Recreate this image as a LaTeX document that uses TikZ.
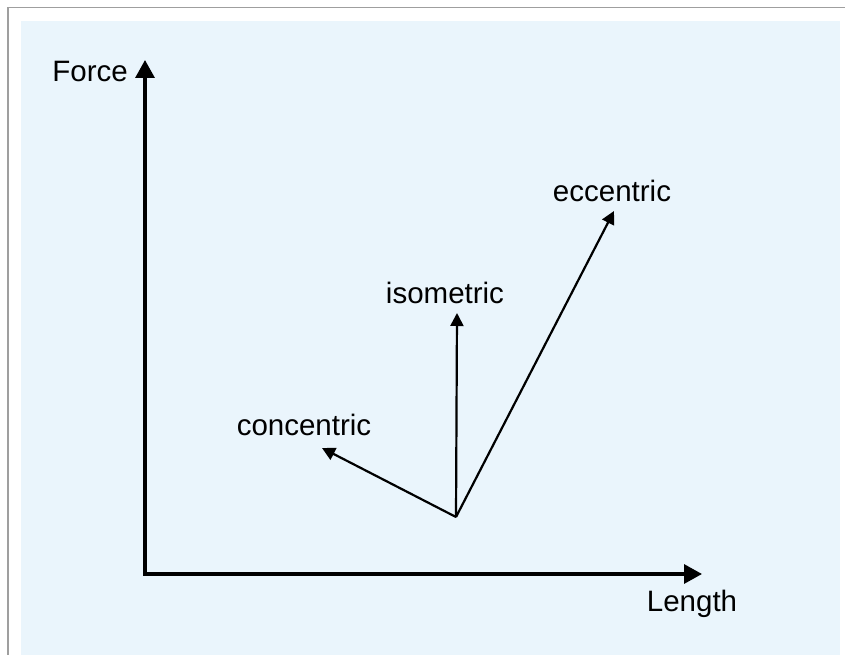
\documentclass[tikz,border=0pt]{standalone}
\usepackage{fontspec}
\setmainfont{Liberation Sans}
\usetikzlibrary{arrows.meta,positioning}
\definecolor{panelblue}{RGB}{234,245,252}

\begin{document}
\begin{tikzpicture}[x=1pt,y=-1pt,
    axis/.style={line width=3.2pt, {Triangle[length=18pt,width=19pt]}-{Triangle[length=18pt,width=19pt]}},
    vec/.style={line width=2.2pt, -{Triangle[length=13pt,width=13pt]}},
    lbl/.style={font=\fontsize{29.5}{35}\selectfont, inner sep=0pt}]

\useasboundingbox (0,0) rectangle (845,655);
\fill[panelblue] (21,21) rectangle (840,655);
\draw[gray!75, line width=1.5pt] (8,655) -- (8,7.5) -- (845,7.5);

% axes
\coordinate (ytip) at (145,60);
\coordinate (orig) at (145,574);
\coordinate (xtip) at (702,574);
\draw[axis] (ytip) -- (orig) -- (xtip);
\node[lbl, anchor=base east] (force) at (128,82) {Force};
\node[lbl, anchor=base] (length) at (692,611) {Length};

% contraction types
\coordinate (start) at (456,517);
\coordinate (concTip) at (322,448);
\coordinate (isoTip) at (457,313);
\coordinate (eccTip) at (614,211);
\draw[vec] (start) -- (concTip);
\draw[vec] (start) -- (isoTip);
\draw[vec] (start) -- (eccTip);
\node[lbl, anchor=base] (concentric) at (304,435) {concentric};
\node[lbl, anchor=base] (isometric) at (445,303) {isometric};
\node[lbl, anchor=base] (eccentric) at (612,201) {eccentric};

\end{tikzpicture}
\end{document}
